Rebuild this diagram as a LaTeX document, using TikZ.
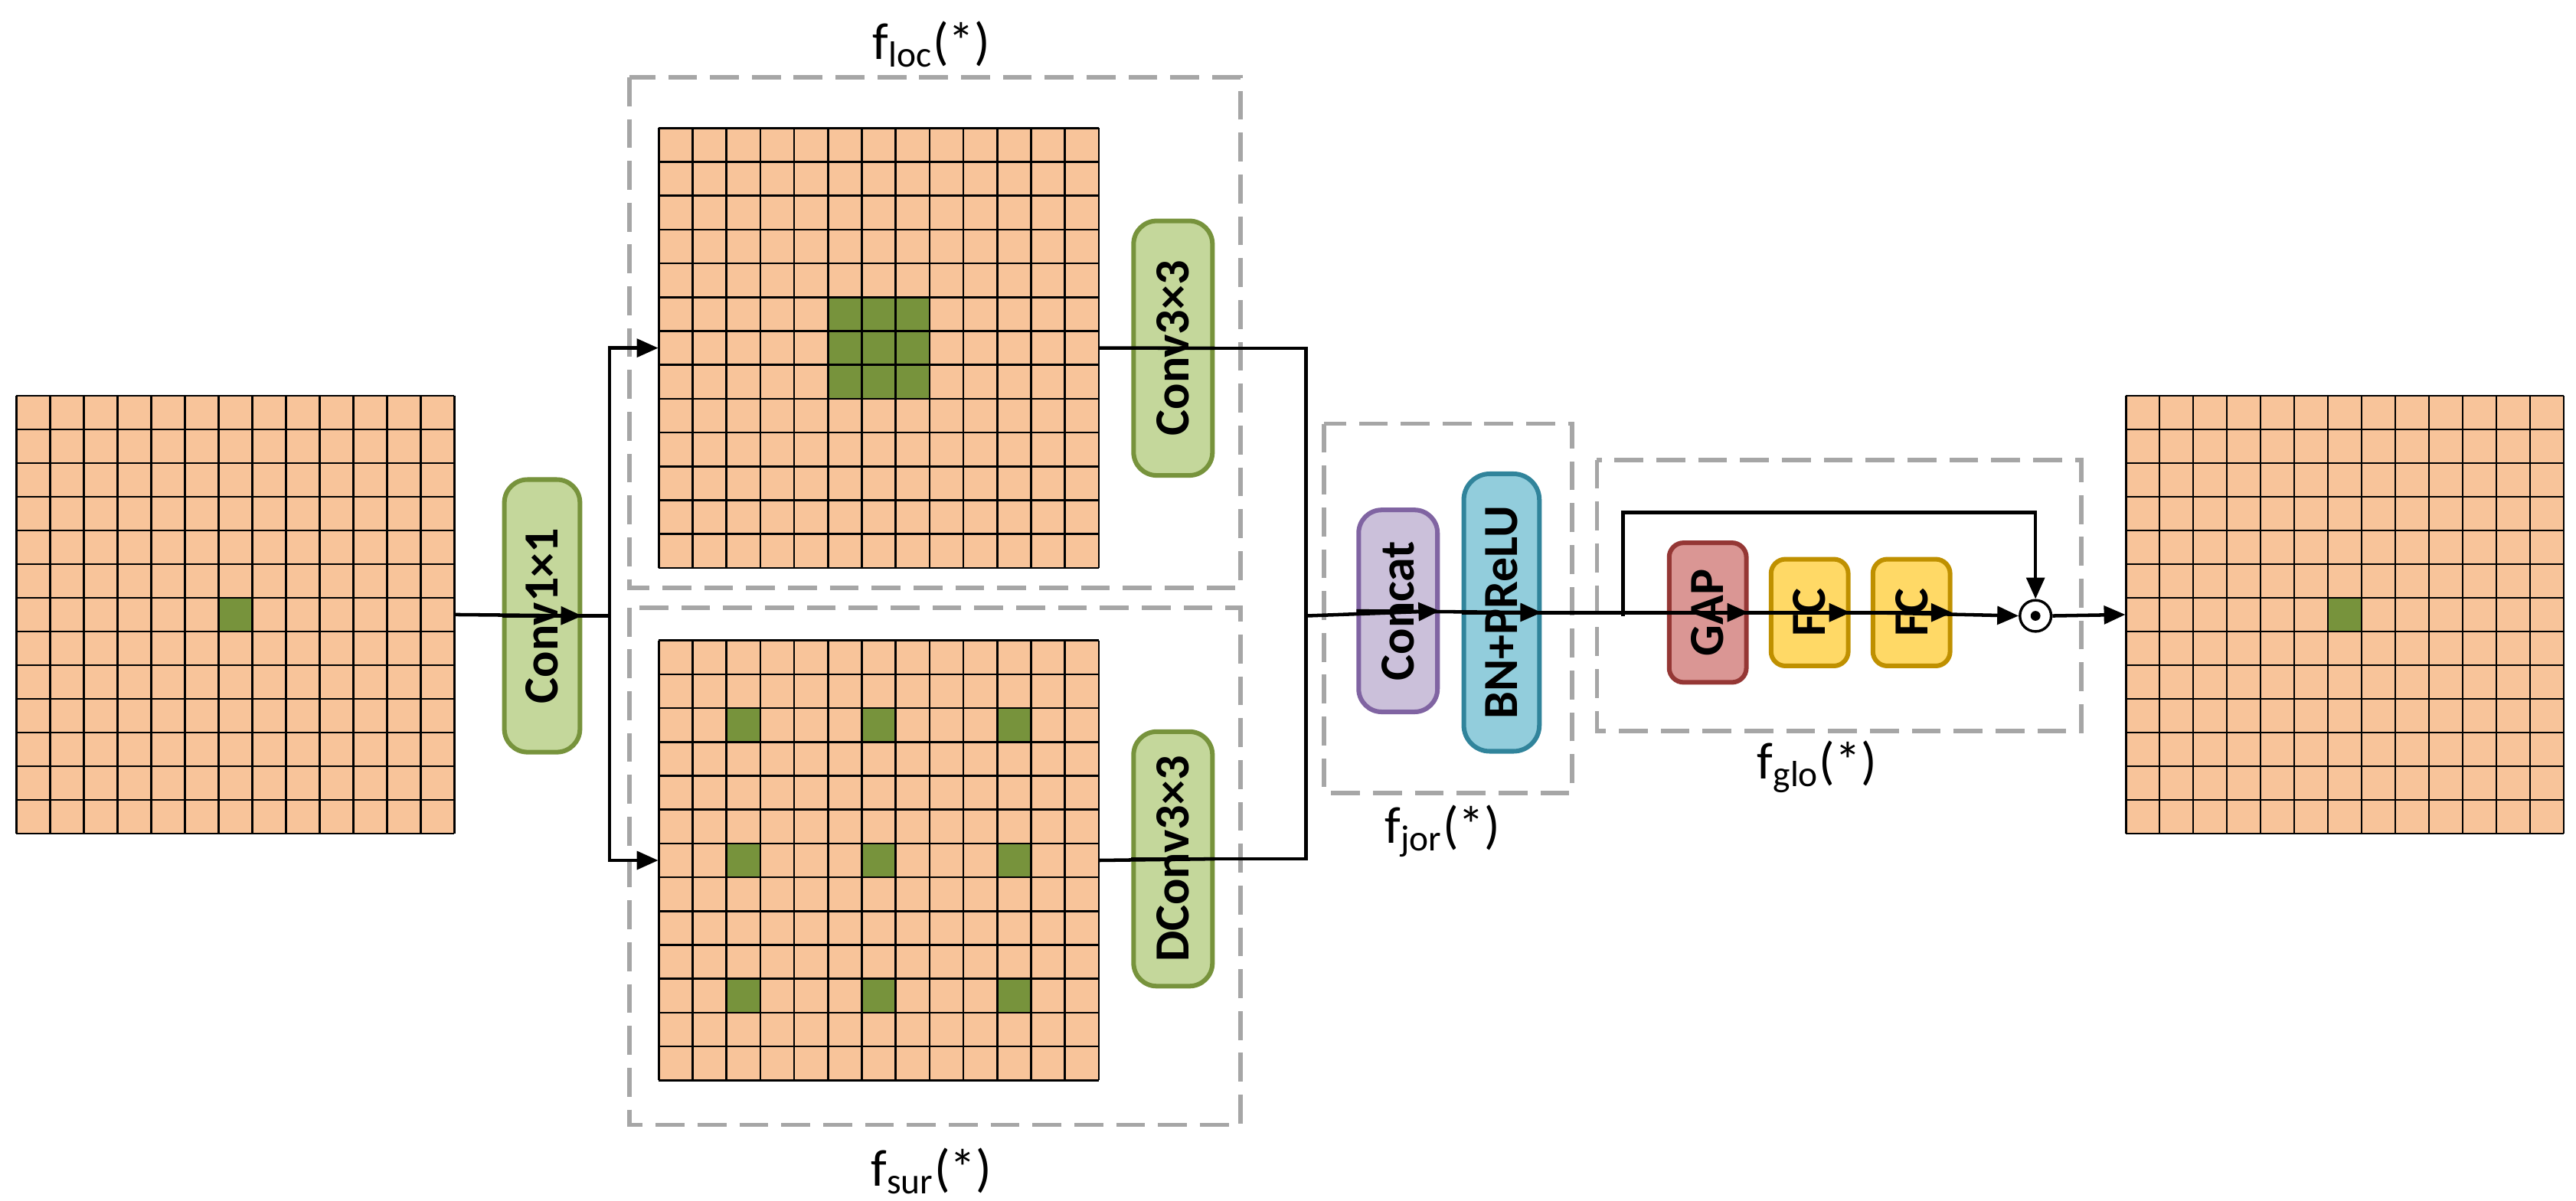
\documentclass[tikz,border=0pt]{standalone}
\usepackage{fontspec}
\setmainfont{Carlito}
\usetikzlibrary{arrows.meta}
\definecolor{cellc}{HTML}{F8C49A}
\definecolor{gcol}{HTML}{77933C}
\definecolor{convf}{HTML}{C4D79B}
\definecolor{catf}{HTML}{CBC0DA}\definecolor{catd}{HTML}{8064A2}
\definecolor{bnf}{HTML}{92CDDC}\definecolor{bnd}{HTML}{31849B}
\definecolor{gapf}{HTML}{DA9694}\definecolor{gapd}{HTML}{953735}
\definecolor{fcf}{HTML}{FFD966}\definecolor{fcd}{HTML}{BF9000}
\definecolor{dashc}{HTML}{A6A6A6}
\newcommand\mygrid[5]{% x0 y0 w name sizecm
  \fill[cellc] (#1,#2) rectangle ++(13*#3,13*#3);
  \path (#1,#2) ++(6.5*#3,6.5*#3) node[inner sep=0,minimum size=#5] (#4) {};
}
\newcommand\mylines[3]{%
  \foreach \i in {0,...,13}{
    \draw[gridl] ({#1+\i*#3},#2) -- ++(0,13*#3);
    \draw[gridl] (#1,{#2+\i*#3}) -- ++(13*#3,0);}
}
\newcommand\gcell[5]{\fill[gcol] ({#1+#4*#3},{#2+#5*#3}) rectangle ++(#3,#3);}
\begin{document}
\begin{tikzpicture}[x=0.02cm,y=-0.02cm,
  gridl/.style={line width=0.7pt,black},
  arr/.style={line width=1.2pt,-{Triangle[length=0.26cm,width=0.22cm]}},
  ln/.style={line width=1.2pt},
  blk/.style={rounded corners=5pt,line width=1.6pt,inner sep=0pt,rotate=90,
     font=\fontsize{17}{20}\selectfont\bfseries},
  conv/.style={blk,fill=convf,draw=gcol,rounded corners=8pt},
  dbox/.style={draw=dashc,line width=1.5pt,dash pattern=on 10pt off 4.5pt},
  lab/.style={font=\fontsize{18}{21}\selectfont}]
\useasboundingbox (0,0) rectangle (1568,731);
% grids
\mygrid{10}{241}{20.5}{g0}{5.33cm}
\gcell{10}{241}{20.5}{6}{6}
\mylines{10}{241}{20.5}
\mygrid{401}{78}{20.6}{g1}{5.356cm}
\foreach \c in {5,6,7}{\foreach \r in {5,6,7}{\gcell{401}{78}{20.6}{\c}{\r}}}
\mylines{401}{78}{20.6}
\mygrid{401}{390}{20.6}{g2}{5.356cm}
\foreach \c in {2,6,10}{\foreach \r in {2,6,10}{\gcell{401}{390}{20.6}{\c}{\r}}}
\mylines{401}{390}{20.6}
\mygrid{1294}{241}{20.5}{g3}{5.33cm}
\gcell{1294}{241}{20.5}{6}{6}
\mylines{1294}{241}{20.5}
% dashed boxes
\draw[dbox] (383,47) rectangle (755,358);
\draw[dbox] (383,370) rectangle (755,685);
\draw[dbox] (806,258) rectangle (957,483);
\draw[dbox] (972,280) rectangle (1267,445);
\node[lab] (l1) at (567,27) {f\textsubscript{loc}(*)};
\node[lab] (l2) at (567,713) {f\textsubscript{sur}(*)};
\node[lab] (l3) at (878,506) {f\textsubscript{jor}(*)};
\node[lab] (l4) at (1106,467) {f\textsubscript{glo}(*)};
% blocks (rotated: width = vertical extent)
\node[conv,minimum width=3.32cm,minimum height=0.92cm] (c1) at (330,375) {Conv1×1};
\node[conv,minimum width=3.1cm,minimum height=0.96cm] (c3) at (714,212) {Conv3×3};
\node[conv,minimum width=3.1cm,minimum height=0.96cm] (d3) at (714,523) {DConv3×3};
\node[blk,fill=catf,draw=catd,rounded corners=8pt,minimum width=2.46cm,minimum height=0.96cm] (cat) at (851,372) {Concat};
\node[blk,fill=bnf,draw=bnd,rounded corners=9pt,minimum width=3.38cm,minimum height=0.92cm] (bn) at (914,373) {BN+PReLU};
\node[blk,fill=gapf,draw=gapd,minimum width=1.7cm,minimum height=0.94cm] (gap) at (1039.5,373) {GAP};
\node[blk,fill=fcf,draw=fcd,minimum width=1.3cm,minimum height=0.94cm] (fc1) at (1101.5,373) {FC};
\node[blk,fill=fcf,draw=fcd,minimum width=1.3cm,minimum height=0.94cm] (fc2) at (1163.5,373) {FC};
\node[circle,draw,line width=0.9pt,minimum size=0.38cm,inner sep=0] (od) at (1239,375) {};
\fill (od.center) circle (1.7pt);
% connectors
\coordinate (j1) at (371,375);
\coordinate (j2) at (795,375);
\coordinate (s) at (988,375);
\draw[arr] (g0.east) -- (c1.south);
\draw[ln] (c1.north) -- (j1);
\draw[arr] (j1) |- (g1.west);
\draw[arr] (j1) |- (g2.west);
\draw[ln] (g1.east) -- (c3.south);
\draw[ln] (g2.east) -- (d3.south);
\draw[ln] (c3.north) -| (j2);
\draw[ln] (d3.north) -| (j2);
\draw[arr] (j2) -- (cat.south);
\draw[arr] (cat.north) -- (bn.south);
\draw[arr] (bn.north) -- (gap.south);
\draw[arr] (s) -- ++(0,-63) -| (od.north);
\draw[arr] (gap.north) -- (fc1.south);
\draw[arr] (fc1.north) -- (fc2.south);
\draw[arr] (fc2.north) -- (od.west);
\draw[arr] (od.east) -- (g3.west);
\end{tikzpicture}
\end{document}
